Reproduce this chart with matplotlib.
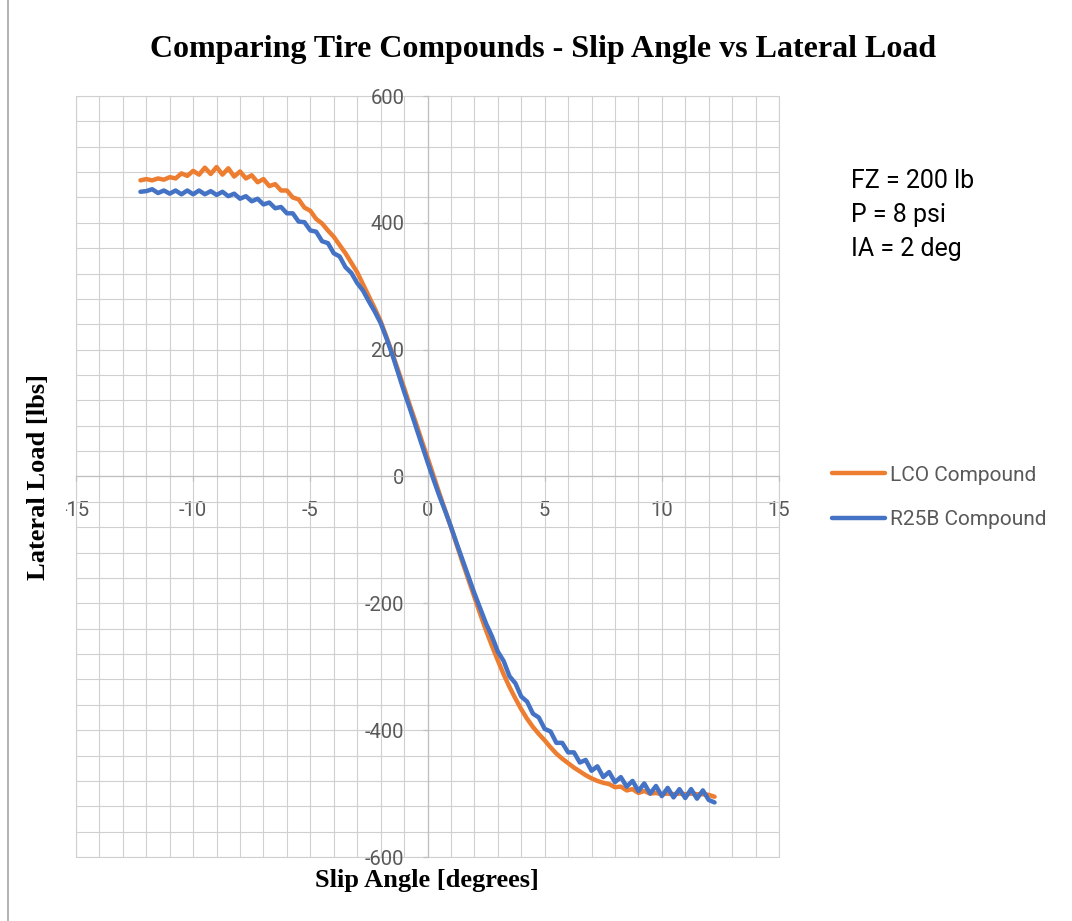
import matplotlib
matplotlib.use('Agg')
import matplotlib.pyplot as plt
from matplotlib.ticker import MultipleLocator
from matplotlib.lines import Line2D
from matplotlib.patches import Rectangle

plt.rcParams['font.family'] = ['Roboto', 'DejaVu Sans']

# ---------------- data ----------------
slip_angle = [
    -12.25, -12.0, -11.75, -11.5, -11.25, -11.0, -10.75, -10.5, -10.25, -10.0,
    -9.75, -9.5, -9.25, -9.0, -8.75, -8.5, -8.25, -8.0, -7.75, -7.5,
    -7.25, -7.0, -6.75, -6.5, -6.25, -6.0, -5.75, -5.5, -5.25, -5.0,
    -4.75, -4.5, -4.25, -4.0, -3.75, -3.5, -3.25, -3.0, -2.75, -2.5,
    -2.25, -2.0, -1.75, -1.5, -1.25, -1.0, -0.75, -0.5, -0.25, 0.0,
    0.25, 0.5, 0.75, 1.0, 1.25, 1.5, 1.75, 2.0, 2.25, 2.5,
    2.75, 3.0, 3.25, 3.5, 3.75, 4.0, 4.25, 4.5, 4.75, 5.0,
    5.25, 5.5, 5.75, 6.0, 6.25, 6.5, 6.75, 7.0, 7.25, 7.5,
    7.75, 8.0, 8.25, 8.5, 8.75, 9.0, 9.25, 9.5, 9.75, 10.0,
    10.25, 10.5, 10.75, 11.0, 11.25, 11.5, 11.75, 12.0, 12.25,
]

lco_load = [
    467, 469, 467, 470, 468, 472, 470, 478, 474, 482,
    476, 487, 477, 488, 476, 486, 473, 481, 470, 475,
    464, 469, 458, 461, 451, 451, 440, 437, 424, 419,
    406, 399, 388, 378, 365, 352, 337, 322, 303, 284,
    265, 245, 220, 194, 167, 140, 112, 85, 57, 30,
    2, -26, -53, -80, -108, -136, -163, -190, -217, -243,
    -267, -290, -312, -332, -350, -367, -382, -395, -406, -416,
    -427, -437, -445, -452, -459, -465, -471, -476, -480, -483,
    -485, -490, -489, -495, -493, -499, -496, -500, -499, -501,
    -500, -501, -500, -501, -500, -501, -501, -502, -505,
]

r25b_load = [
    449, 450, 453, 447, 451, 446, 451, 445, 451, 445,
    451, 445, 450, 444, 449, 442, 446, 438, 442, 434,
    438, 429, 432, 423, 425, 415, 415, 402, 401, 388,
    386, 371, 368, 352, 347, 330, 321, 305, 293, 276,
    260, 242, 218, 192, 163, 134, 107, 79, 51, 23,
    -4, -30, -54, -79, -106, -132, -158, -184, -208, -232,
    -252, -276, -291, -315, -326, -347, -355, -374, -380, -398,
    -402, -420, -420, -435, -435, -451, -447, -464, -457, -474,
    -466, -482, -474, -489, -480, -496, -484, -500, -488, -504,
    -491, -506, -493, -507, -493, -508, -495, -510, -514,
]

series_names = ['LCO Compound', 'R25B Compound']
series_colors = ['#ED7D31', '#4472C4']

x_ticks = [-15, -10, -5, 0, 5, 10, 15]
x_tick_labels = ['-15', '-10', '-5', '0', '5', '10', '15']
y_ticks = [-600, -400, -200, 0, 200, 400, 600]
y_tick_labels = ['-600', '-400', '-200', '0', '200', '400', '600']

title_text = 'Comparing Tire Compounds - Slip Angle vs Lateral Load'
x_label = 'Slip Angle [degrees]'
y_label = 'Lateral Load [lbs]'
annotation_lines = ['FZ = 200 lb', 'P = 8 psi', 'IA = 2 deg']

# ---------------- figure ----------------
W, H = 1072, 921
fig = plt.figure(figsize=(W / 100, H / 100), dpi=100)
fig.patch.set_facecolor('white')
ax = fig.add_axes([76 / W, (H - 857) / H, 703 / W, 761 / H])
ax.set_xlim(-15, 15)
ax.set_ylim(-600, 600)

ax.xaxis.set_minor_locator(MultipleLocator(1))
ax.yaxis.set_minor_locator(MultipleLocator(40))
ax.set_xticks(x_ticks)
ax.set_xticklabels(x_tick_labels)
ax.set_yticks(y_ticks)
ax.set_yticklabels(y_tick_labels)

ax.set_axisbelow(True)
grid_color = '#D0D0D0'
ax.grid(which='both', color=grid_color, linewidth=0.8)
ax.add_patch(Rectangle((0, 0), 1, 1, transform=ax.transAxes, fill=False,
                       ec=grid_color, lw=0.8, clip_on=False, zorder=0.4))

for s in ['top', 'right']:
    ax.spines[s].set_visible(False)
for s in ['left', 'bottom']:
    ax.spines[s].set_position(('data', 0))
    ax.spines[s].set_color('#BFBFBF')
    ax.spines[s].set_linewidth(0.9)

ax.tick_params(which='major', direction='out', length=3.6, width=0.9,
               color='#BFBFBF', labelsize=14.5, labelcolor='#595959')
ax.tick_params(axis='x', which='major', pad=14)
ax.tick_params(axis='y', which='major', pad=13)
ax.tick_params(which='minor', length=0)

lines = []
for vals, name, col, z in zip([lco_load, r25b_load], series_names, series_colors, [3, 3.1]):
    ln, = ax.plot(slip_angle, vals, color=col, lw=3.2, label=name, zorder=z,
                  solid_joinstyle='round', solid_capstyle='round')
    lines.append(ln)

fig.legend(handles=lines, loc='center left',
           bbox_to_anchor=(832 / W, (H - 497.5) / H), bbox_transform=fig.transFigure,
           frameon=False, fontsize=15, handlelength=2.55, handletextpad=0.25,
           labelspacing=1.24, borderpad=0, borderaxespad=0, labelcolor='#595959')

for txt, base in zip(annotation_lines, [188, 222, 256]):
    fig.text(851 / W, (H - base) / H, txt, ha='left', va='baseline',
             fontsize=18, color='black')

serif = ['Liberation Serif', 'DejaVu Serif']
fig.text(543.5 / W, (H - 56.7) / H, title_text, ha='center', va='baseline',
         fontsize=23, fontweight='bold', family=serif, color='black')
fig.text(427 / W, (H - 887) / H, x_label, ha='center', va='baseline',
         fontsize=19, fontweight='bold', family=serif, color='black')
fig.text(39 / W, (H - 476.5) / H, y_label, ha='center', va='center', rotation=90,
         fontsize=19, fontweight='bold', family=serif, color='black', zorder=10,
         bbox=dict(facecolor='white', edgecolor='none', pad=11))

fig.add_artist(Line2D([7.5 / W, 7.5 / W], [0, 1], transform=fig.transFigure,
                      color='#A6A6A6', lw=1.2))

fig.savefig('out.png', dpi=100, facecolor='white')
